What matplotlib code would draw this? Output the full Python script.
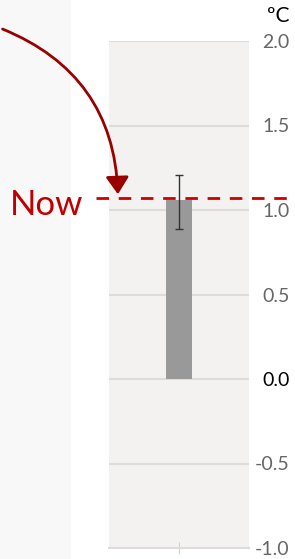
import matplotlib
matplotlib.use("Agg")
import matplotlib.pyplot as plt
from matplotlib.patches import Rectangle, FancyArrowPatch
from matplotlib.transforms import blended_transform_factory

# Data
categories = ["Now"]
values = [1.06]
err_low = [0.89]
err_high = [1.21]
now_level = 1.07
yticks = [-1.0, -0.5, 0.0, 0.5, 1.0, 1.5, 2.0]
ytick_labels = ["-1.0", "-0.5", "0.0", "0.5", "1.0", "1.5", "2.0"]
unit_label = "ºC"
now_label = "Now"

plt.rcParams['font.family'] = ['Lato', 'DejaVu Sans']

W, H = 295, 559
fig = plt.figure(figsize=(W / 100, H / 100), dpi=100)
fig.patch.set_facecolor('white')

# left light background band
fig.patches.append(Rectangle((0, 0), 71 / W, 1, transform=fig.transFigure,
                             facecolor='#f9f8f8', edgecolor='none', zorder=0))

ax_l, ax_r = 109 / W, 249 / W
ax_top, ax_bot = 41 / H, 548 / H
ax = fig.add_axes([ax_l, 1 - ax_bot, ax_r - ax_l, ax_bot - ax_top])
ax.set_facecolor('#f3f2f1')
ax.set_xlim(-0.5, 0.5)
ax.set_ylim(-1.0, 2.0)

x = list(range(len(categories)))
yerr = [[v - lo for v, lo in zip(values, err_low)],
        [hi - v for v, hi in zip(values, err_high)]]
ax.bar(x, values, width=0.19, color='#999999', zorder=3)
ax.errorbar(x, values, yerr=yerr, fmt='none', ecolor='#333333',
            elinewidth=1.0, capsize=3, capthick=1.0, zorder=4)

ax.set_yticks(yticks)
ax.set_yticklabels(ytick_labels)
ax.yaxis.tick_right()
ax.tick_params(axis='y', length=0, pad=29, labelsize=14, labelcolor='#666666')
for lab in ax.get_yticklabels():
    lab.set_horizontalalignment('right')
    if lab.get_text() == "0.0":
        lab.set_color('black')
ax.grid(axis='y', color='#dcdcdc', linewidth=1.5, zorder=1)
ax.set_axisbelow(True)

ax.set_xticks(x)
ax.set_xticklabels([""] * len(x))
ax.tick_params(axis='x', direction='inout', length=9, width=0.8, color='#d0d0d0')
for s in ['top', 'left', 'right']:
    ax.spines[s].set_visible(False)
ax.spines['bottom'].set_color('#dcdcdc')
ax.spines['bottom'].set_linewidth(1.5)

# dashed "now" line across
tr = blended_transform_factory(fig.transFigure, ax.transData)
ax.plot([96 / W, 1.0], [now_level, now_level], transform=tr, clip_on=False,
        color='#cc0000', linewidth=2, dashes=(4.5, 3.5), zorder=5)

# "Now" text
fig.text(10 / W, 1 - 205 / H, now_label, color='#c00000', fontsize=25,
         ha='left', va='center')

# unit
fig.text(290 / W, 1 - 16 / H, unit_label, color='black', fontsize=15,
         ha='right', va='center')

# curved arrow
arrow = FancyArrowPatch((0, 1 - 28 / H), (118 / W, 1 - 197 / H),
                        transform=fig.transFigure,
                        connectionstyle="arc3,rad=-0.33",
                        arrowstyle="-|>,head_length=0.75,head_width=0.5",
                        mutation_scale=14, color='#990000', linewidth=2,
                        zorder=6)
fig.patches.append(arrow)

fig.savefig('out.png', dpi=100)
